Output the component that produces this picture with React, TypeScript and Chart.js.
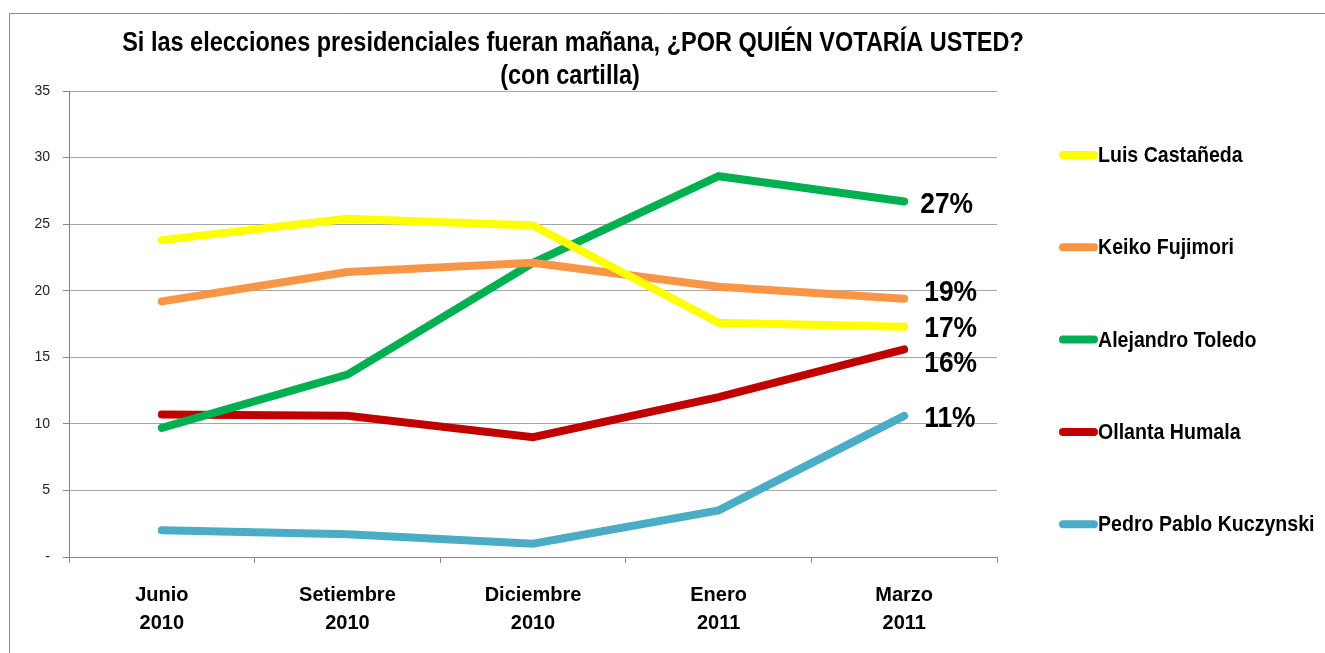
import React, { useEffect, useRef } from "react";
import { Chart, registerables } from "chart.js";

Chart.register(...registerables);

const titleLines = [
  "Si las elecciones presidenciales fueran mañana, ¿POR QUIÉN VOTARÍA USTED?",
  "(con cartilla)",
];
const categories = [
  ["Junio", "2010"],
  ["Setiembre", "2010"],
  ["Diciembre", "2010"],
  ["Enero", "2011"],
  ["Marzo", "2011"],
];
const seriesNames = [
  "Luis Castañeda",
  "Keiko Fujimori",
  "Alejandro Toledo",
  "Ollanta Humala",
  "Pedro Pablo Kuczynski",
];
const castaneda = [23.8, 25.4, 24.9, 17.6, 17.3];
const fujimori = [19.2, 21.4, 22.1, 20.3, 19.4];
const toledo = [9.7, 13.7, 22.1, 28.6, 26.7];
const humala = [10.7, 10.6, 9.0, 12.0, 15.6];
const kuczynski = [2.0, 1.7, 1.0, 3.5, 10.6];
const endLabels = ["17%", "19%", "27%", "16%", "11%"];
const yTicks = [0, 5, 10, 15, 20, 25, 30, 35];

const colors = ["#FFFF00", "#F79646", "#00B050", "#C00000", "#4BACC6"];
const labelOffsets = [
  [20, 2],
  [20, -6],
  [16, 3],
  [20, 14],
  [20, 3],
];

const FONT = "'Liberation Sans', Arial, sans-serif";
const GRID = "#A6A6A6";
const AXIS = "#868686";

function squeezedText(ctx: any, text: string, x: number, y: number, sx: number) {
  ctx.save();
  ctx.translate(x, y);
  ctx.scale(sx, 1);
  ctx.fillText(text, 0, 0);
  ctx.restore();
}

const decorPlugin = {
  id: "decor",
  beforeDraw(chart: any) {
    const ctx = chart.ctx;
    ctx.save();
    ctx.fillStyle = "#ffffff";
    ctx.fillRect(0, 0, chart.width, chart.height);
    ctx.strokeStyle = "#8C8C8C";
    ctx.lineWidth = 1;
    ctx.beginPath();
    ctx.moveTo(9.5, chart.height);
    ctx.lineTo(9.5, 13.5);
    ctx.lineTo(chart.width, 13.5);
    ctx.stroke();
    ctx.restore();
  },
  afterDatasetsDraw(chart: any) {
    const ctx = chart.ctx;
    ctx.save();
    ctx.fillStyle = "#000000";
    ctx.font = `bold 30px ${FONT}`;
    ctx.textAlign = "left";
    ctx.textBaseline = "middle";
    chart.data.datasets.forEach((ds: any, i: number) => {
      const meta = chart.getDatasetMeta(i);
      const pt = meta.data[meta.data.length - 1];
      if (!pt) return;
      const [dx, dy] = labelOffsets[i];
      squeezedText(ctx, endLabels[i], pt.x + dx, pt.y + dy, 0.88);
    });
    ctx.restore();
  },
  afterDraw(chart: any) {
    const ctx = chart.ctx;
    ctx.save();
    ctx.fillStyle = "#000000";
    ctx.textAlign = "center";
    ctx.textBaseline = "middle";
    ctx.font = `bold 27px ${FONT}`;
    squeezedText(ctx, titleLines[0], 573, 44, 0.87);
    squeezedText(ctx, titleLines[1], 570, 77, 0.87);
    // legend
    ctx.textAlign = "left";
    ctx.font = `bold 22px ${FONT}`;
    chart.data.datasets.forEach((ds: any, i: number) => {
      const y = 155 + i * 92.3;
      ctx.strokeStyle = ds.borderColor;
      ctx.lineWidth = 8;
      ctx.lineCap = "round";
      ctx.beginPath();
      ctx.moveTo(1063, y);
      ctx.lineTo(1094, y);
      ctx.stroke();
      ctx.fillStyle = "#000000";
      squeezedText(ctx, ds.label, 1098, y + 1, 0.89);
    });
    ctx.restore();
  },
};

export default function App() {
  const canvasRef = useRef<HTMLCanvasElement | null>(null);

  useEffect(() => {
    document.body.style.margin = "0";
    document.body.style.overflow = "hidden";
    const canvas = canvasRef.current;
    if (!canvas) return;
    const seriesValues = [castaneda, fujimori, toledo, humala, kuczynski];
    const chart = new Chart(canvas, {
      type: "line",
      data: {
        labels: categories,
        datasets: seriesValues.map((vals, i) => ({
          label: seriesNames[i],
          data: vals,
          borderColor: colors[i],
          backgroundColor: colors[i],
          borderWidth: 8,
          borderCapStyle: "round",
          borderJoinStyle: "miter",
          pointRadius: 0,
          pointHoverRadius: 0,
          tension: 0,
          fill: false,
        })),
      },
      options: {
        animation: false,
        responsive: false,
        events: [],
        layout: { padding: { left: 0, right: 328, top: 91, bottom: 0 } },
        plugins: {
          legend: { display: false },
          title: { display: false },
          tooltip: { enabled: false },
        },
        scales: {
          x: {
            type: "category",
            offset: true,
            afterFit: (s: any) => {
              s.height = 96;
            },
            grid: {
              display: true,
              offset: true,
              drawOnChartArea: false,
              drawTicks: true,
              tickLength: 6,
              color: AXIS,
            },
            border: { display: true, color: AXIS, width: 1 },
            ticks: {
              color: "#000000",
              padding: 18,
              font: { family: FONT, size: 20, weight: "bold", lineHeight: 1.4 },
              maxRotation: 0,
              autoSkip: false,
            },
          },
          y: {
            min: 0,
            max: 35,
            afterFit: (s: any) => {
              s.width = 69;
            },
            afterBuildTicks: (s: any) => {
              s.ticks = yTicks.map((v) => ({ value: v }));
            },
            grid: {
              color: GRID,
              lineWidth: 1,
              drawTicks: true,
              tickLength: 6,
              tickColor: AXIS,
            },
            border: { display: true, color: AXIS, width: 1 },
            ticks: {
              color: "#222222",
              padding: 13,
              font: { family: FONT, size: 14 },
              callback: (v: any) => (Number(v) === 0 ? "-" : String(v)),
            },
          },
        },
      },
      plugins: [decorPlugin],
    });
    return () => chart.destroy();
  }, []);

  return (
    <div style={{ width: 1325, height: 653 }}>
      <canvas ref={canvasRef} width={1325} height={653} style={{ display: "block" }} />
    </div>
  );
}
